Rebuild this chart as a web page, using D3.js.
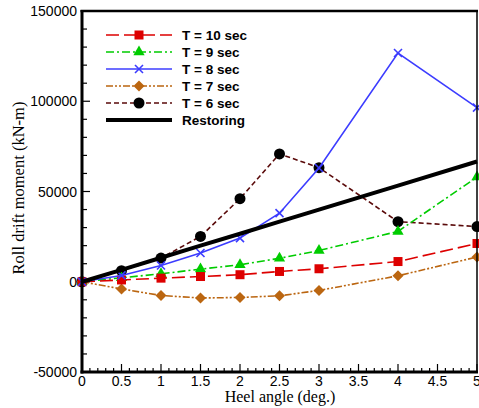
<!DOCTYPE html>
<html>
<head>
<meta charset="utf-8">
<script src="https://cdn.jsdelivr.net/npm/d3@7"></script>
<style>
  body { margin: 0; background: #fff; }
  svg { display: block; }
</style>
</head>
<body>
<svg id="main-svg"></svg>
<script>
// heel angles where the curves are sampled
const angles = [0, 0.5, 1, 1.5, 2, 2.5, 3, 4, 5];

const t10 = [0, 1000, 2000, 2900, 3900, 5700, 7200, 11200, 21200];
const t9 = [0, 2200, 4400, 7000, 9400, 13000, 17300, 27900, 58000];
const t8 = [0, 3500, 9000, 15900, 24200, 38000, 63000, 126700, 96500];
const t7 = [0, -4000, -7600, -9000, -8700, -7800, -4800, 3300, 13700];
const t6 = [0, 6100, 13100, 25100, 46000, 70800, 63200, 33300, 30600];
const restoring = [0, 6600, 13300, 20000, 26600, 33300, 40000, 53300, 66600];

const seriesNames = ["T = 10 sec", "T = 9 sec", "T = 8 sec", "T = 7 sec", "T = 6 sec", "Restoring"];

const xTicks = [0, 0.5, 1, 1.5, 2, 2.5, 3, 3.5, 4, 4.5, 5];
const yTicks = [-50000, 0, 50000, 100000, 150000];

const width = 479, height = 408;
const svg = d3.select("#main-svg").attr("width", width).attr("height", height);

const pLeft = 82, pRight = 477, pTop = 11, pBottom = 372;

const x = d3.scaleLinear().domain([0, 5]).range([pLeft, pRight]);
const y = d3.scaleLinear().domain([-50000, 150000]).range([pBottom, pTop]);

// series styles
const series = [
  { name: seriesNames[0], values: t10, color: "#dd0000", dash: "13,5", marker: "square", fill: "#dd0000" },
  { name: seriesNames[1], values: t9, color: "#00cc00", dash: "8,3,2,3", marker: "triangle", fill: "#00cc00" },
  { name: seriesNames[2], values: t8, color: "#3c3cff", dash: null, marker: "cross", fill: "#3c3cff" },
  { name: seriesNames[3], values: t7, color: "#bb6611", dash: "7,2,2,2,2,2", marker: "diamond", fill: "#bb6611" },
  { name: seriesNames[4], values: t6, color: "#5a0a0a", dash: "5,3", marker: "circle", fill: "#000" },
  { name: seriesNames[5], values: restoring, color: "#000", dash: null, marker: null, width: 4 }
];

const plot = svg.append("g");

const line = d3.line().x(d => x(d[0])).y(d => y(d[1]));

function drawMarker(g, type, cx, cy, color) {
  if (type === "square") {
    g.append("rect").attr("x", cx - 4.5).attr("y", cy - 4.5).attr("width", 9).attr("height", 9).attr("fill", color);
  } else if (type === "triangle") {
    g.append("path").attr("d", d3.symbol(d3.symbolTriangle, 55)()).attr("transform", `translate(${cx},${cy})`).attr("fill", color);
  } else if (type === "diamond") {
    g.append("path").attr("d", `M${cx},${cy - 5.5}L${cx + 5.5},${cy}L${cx},${cy + 5.5}L${cx - 5.5},${cy}Z`).attr("fill", color);
  } else if (type === "circle") {
    g.append("circle").attr("cx", cx).attr("cy", cy).attr("r", 5.5).attr("fill", color);
  } else if (type === "cross") {
    g.append("path").attr("d", `M${cx - 4},${cy - 4}L${cx + 4},${cy + 4}M${cx - 4},${cy + 4}L${cx + 4},${cy - 4}`)
      .attr("stroke", color).attr("stroke-width", 1.6);
  }
}

// draw order: lines with markers, restoring on top
const order = [4, 3, 1, 0, 2, 5];
order.forEach(i => {
  const s = series[i];
  const pts = angles.map((a, k) => [a, s.values[k]]);
  plot.append("path")
    .datum(pts)
    .attr("d", line)
    .attr("fill", "none")
    .attr("stroke", s.color)
    .attr("stroke-width", s.width || 1.6)
    .attr("stroke-dasharray", s.dash);
  if (s.marker) {
    const mg = plot.append("g");
    pts.forEach(p => drawMarker(mg, s.marker, x(p[0]), y(p[1]), s.fill));
  }
});

// frame
plot.append("line").attr("x1", pRight).attr("x2", pRight).attr("y1", pTop).attr("y2", pBottom)
  .attr("stroke", "#000").attr("stroke-width", 1.5);

// y axis with minor ticks
const yAxis = svg.append("g");
const yMinor = d3.range(-50000, 150001, 10000);
yAxis.selectAll(".ytick").data(yMinor).enter().append("line")
  .attr("x1", pLeft).attr("x2", d => pLeft + (d % 50000 === 0 ? 8 : 5))
  .attr("y1", d => y(d)).attr("y2", d => y(d))
  .attr("stroke", "#000").attr("stroke-width", 1.2);
yAxis.selectAll(".ylab").data(yTicks).enter().append("text")
  .attr("x", pLeft - 5).attr("y", d => y(d) + 5)
  .attr("text-anchor", "end")
  .attr("font-family", "Liberation Sans, Arial, sans-serif")
  .attr("font-size", "14px")
  .text(d => d);

// x axis with minor ticks
const xAxis = svg.append("g");
const xMinor = d3.range(0, 50.5, 1).map(d => d / 10);
xAxis.selectAll(".xtick").data(xMinor).enter().append("line")
  .attr("x1", d => x(d)).attr("x2", d => x(d))
  .attr("y1", pBottom).attr("y2", (d, i) => pBottom - (i % 5 === 0 ? 8 : 4))
  .attr("stroke", "#000").attr("stroke-width", 1.2);
xAxis.selectAll(".xlab").data(xTicks).enter().append("text")
  .attr("x", d => x(d)).attr("y", 386)
  .attr("text-anchor", "middle")
  .attr("font-family", "Liberation Sans, Arial, sans-serif")
  .attr("font-size", "14px")
  .text(d => d);

// thick axis lines
svg.append("line").attr("x1", pLeft).attr("x2", pLeft).attr("y1", pTop - 1).attr("y2", pBottom + 1.5)
  .attr("stroke", "#000").attr("stroke-width", 3);
svg.append("line").attr("x1", pLeft - 1.5).attr("x2", pRight + 1).attr("y1", pBottom).attr("y2", pBottom)
  .attr("stroke", "#000").attr("stroke-width", 3);
svg.append("line").attr("x1", pLeft - 1.5).attr("x2", pRight + 1).attr("y1", pTop).attr("y2", pTop)
  .attr("stroke", "#000").attr("stroke-width", 2.5);

// axis titles
svg.append("text")
  .attr("x", 280).attr("y", 402)
  .attr("text-anchor", "middle")
  .attr("font-family", "Liberation Serif, Times New Roman, serif")
  .attr("font-size", "16px")
  .text("Heel angle (deg.)");

svg.append("text")
  .attr("transform", "translate(24,188) rotate(-90)")
  .attr("text-anchor", "middle")
  .attr("font-family", "Liberation Serif, Times New Roman, serif")
  .attr("font-size", "16.5px")
  .text("Roll drift moment (kN-m)");

// legend
const legend = svg.append("g");
series.forEach((s, i) => {
  const ly = 35 + i * 17;
  legend.append("line")
    .attr("x1", 106).attr("x2", 172).attr("y1", ly).attr("y2", ly)
    .attr("stroke", s.color)
    .attr("stroke-width", s.width || 1.6)
    .attr("stroke-dasharray", s.dash);
  if (s.marker) drawMarker(legend, s.marker, 139, ly, s.fill);
  legend.append("text")
    .attr("x", 182).attr("y", ly + 5)
    .attr("font-family", "Liberation Sans, Arial, sans-serif")
    .attr("font-weight", "bold")
    .attr("font-size", "13.5px")
    .text(s.name);
});
</script>
</body>
</html>
